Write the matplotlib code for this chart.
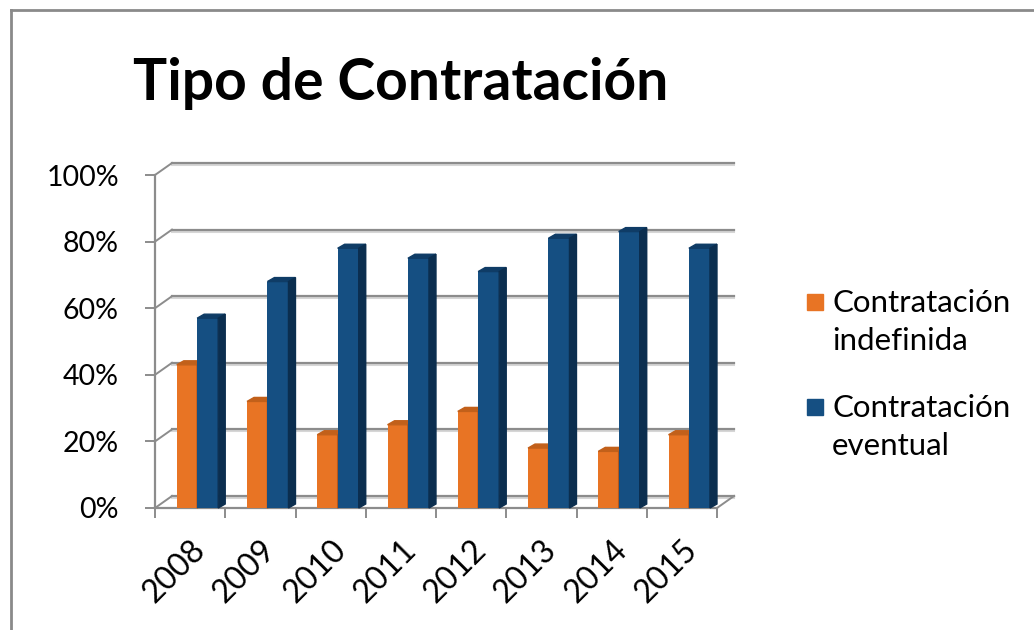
import matplotlib
matplotlib.use("Agg")
import matplotlib.pyplot as plt
from matplotlib.patches import Polygon, Rectangle
from matplotlib.lines import Line2D

years = ["2008", "2009", "2010", "2011", "2012", "2013", "2014", "2015"]
indefinida = [43, 32, 22, 25, 29, 18, 17, 22]
eventual = [57, 68, 78, 75, 71, 81, 83, 78]
y_ticks = [0, 20, 40, 60, 80, 100]
y_labels = ["0%", "20%", "40%", "60%", "80%", "100%"]
series_names = ["Contratación\nindefinida", "Contratación\neventual"]

plt.rcParams["font.family"] = ["Lato", "DejaVu Sans"]

# colours: front, top, side
orange = ("#E87424", "#C2601A", "#B5561A")
blue = ("#154F82", "#0F3C66", "#0B2E4F")
grid_col = "#8C8C8C"
shadow_col = "#D6D6D6"

W, H = 1034, 630
fig = plt.figure(figsize=(W / 100, H / 100), dpi=100)

left, right, bottom, top = 155, 717, 508, 175
ax = fig.add_axes([left / W, (H - bottom) / H, (right - left) / W, (bottom - top) / H])
ax.set_xlim(0, len(years))
ax.set_ylim(0, 100)
ax.patch.set_visible(False)
for s in ax.spines.values():
    s.set_visible(False)

# depth of the back wall and of each bar, in data units
px_x = len(years) / (right - left)
px_y = 100 / (bottom - top)
wall_dx, wall_dy = 17 * px_x, 12 * px_y
bar_dx, bar_dy = 7 * px_x, 4 * px_y

# back wall gridlines + left wall diagonals
for v in y_ticks:
    ax.plot([wall_dx, len(years) + wall_dx], [v + wall_dy - 0.6, v + wall_dy - 0.6],
            color=shadow_col, lw=1.5, clip_on=False, zorder=0)
    ax.plot([wall_dx, len(years) + wall_dx], [v + wall_dy, v + wall_dy],
            color=grid_col, lw=1.6, clip_on=False, zorder=1)
    ax.plot([0, wall_dx], [v, v + wall_dy], color=grid_col, lw=1.4,
            clip_on=False, zorder=1)
# floor front edge and right diagonal
ax.plot([0, len(years)], [0, 0], color=grid_col, lw=1.6, clip_on=False, zorder=1)
ax.plot([len(years), len(years) + wall_dx], [0, wall_dy], color=grid_col, lw=1.4,
        clip_on=False, zorder=1)
ax.plot([0, 0], [0, 100], color=grid_col, lw=1.6, clip_on=False, zorder=1)


def bar3d(x0, w, h, cols, z):
    x1 = x0 + w
    ax.bar(x0, h, width=w, align="edge", color=cols[0], zorder=z, clip_on=False)
    top_face = [(x0, h), (x1, h), (x1 + bar_dx, h + bar_dy), (x0 + bar_dx, h + bar_dy)]
    side_face = [(x1, 0), (x1, h), (x1 + bar_dx, h + bar_dy), (x1 + bar_dx, bar_dy)]
    ax.add_patch(Polygon(top_face, closed=True, color=cols[1], zorder=z, clip_on=False))
    ax.add_patch(Polygon(side_face, closed=True, color=cols[2], zorder=z, clip_on=False))


for i in range(len(years)):
    bar3d(i + 0.31, 0.29, indefinida[i], orange, 3)
    bar3d(i + 0.60, 0.30, eventual[i], blue, 4)

# ticks
ax.set_yticks(y_ticks)
ax.set_yticklabels(y_labels, fontsize=20.5)
ax.tick_params(axis="y", length=7, width=1.4, color=grid_col, pad=19)
ax.set_xticks(range(len(years) + 1), minor=True)
ax.tick_params(axis="x", which="minor", length=7, width=1.4, color=grid_col, direction="out")
ax.set_xticks([i + 0.5 for i in range(len(years))])
ax.set_xticklabels(years, rotation=45, ha="right", va="top", fontsize=23,
                   rotation_mode="anchor")
ax.tick_params(axis="x", which="major", length=0, pad=19)

# title
fig.text(133 / W, 1 - 100 / H, "Tipo de Contratación", fontsize=41, fontweight="bold",
         ha="left", va="baseline")

# legend, drawn by hand so the swatch lines up with the first text line
leg_colors = [orange[0], blue[0]]
for k, (name, col) in enumerate(zip(series_names, leg_colors)):
    y0 = 289 + k * 105
    fig.add_artist(Rectangle((807 / W, 1 - (y0 + 21) / H), 16 / W, 16 / H,
                             color=col, transform=fig.transFigure))
    fig.text(832 / W, 1 - y0 / H, name, fontsize=22.5, ha="left", va="top",
             linespacing=1.45)

# outer frame (cut at right and bottom edges)
fig.add_artist(Line2D([11 / W, 11 / W], [0, 1 - 10 / H], color="#8A8A8A", lw=2))
fig.add_artist(Line2D([11 / W, 1], [1 - 10 / H, 1 - 10 / H], color="#8A8A8A", lw=2))

fig.savefig("out.png", dpi=100, facecolor="white")
